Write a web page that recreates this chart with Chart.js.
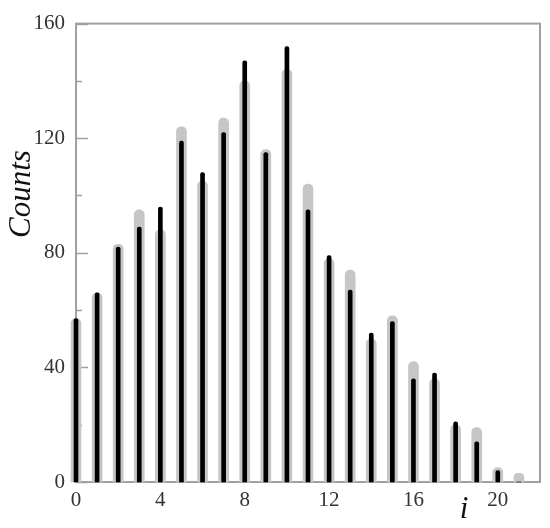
<!DOCTYPE html>
<html><head><meta charset="utf-8">
<script src="https://cdn.jsdelivr.net/npm/chart.js@4"></script>
<style>html,body{margin:0;padding:0;background:#fff}#wrap{width:550px;height:528px}</style>
</head><body><div id="wrap"><canvas id="c" width="550" height="528"></canvas></div>
<script>
const indices = [0,1,2,3,4,5,6,7,8,9,10,11,12,13,14,15,16,17,18,19,20,21];
const blackCounts = [57,66,82,89,96,119,108,122,147,115,152,95,79,67,52,56,36,38,21,14,4,0];
const grayCounts  = [57,66,83,95,88,124,105,127,140,116,144,104,78,74,50,58,42,36,20,19,5,3];
const xTicks = [0,4,8,12,16,20];
const yMajorTicks = [0,40,80,120,160];
const yMinorTicks = [20,60,100,140];
const xTitle = 'i';
const yTitle = 'Counts';

const serif = '"Liberation Serif", "DejaVu Serif", serif';

const framePlugin = {
  id: 'frame',
  beforeDatasetsDraw(chart) {
    const {ctx, chartArea: a, scales: {y}} = chart;
    ctx.save();
    ctx.strokeStyle = '#a0a0a0';
    ctx.lineWidth = 2;
    ctx.strokeRect(a.left, a.top, a.right - a.left, a.bottom - a.top);
    ctx.lineWidth = 1.5;
    const tick = (v, len) => {
      const py = Math.round(y.getPixelForValue(v)) + 0.5;
      ctx.beginPath(); ctx.moveTo(a.left, py); ctx.lineTo(a.left + len, py); ctx.stroke();
    };
    yMajorTicks.forEach(v => tick(v, 12));
    yMinorTicks.forEach(v => tick(v, 6));
    ctx.restore();
  },
  afterDraw(chart) {
    const {ctx, scales: {x, y}} = chart;
    ctx.save();
    ctx.fillStyle = '#111';
    ctx.font = 'italic 31px ' + serif;
    ctx.textAlign = 'center';
    ctx.textBaseline = 'alphabetic';
    ctx.fillText(xTitle, x.getPixelForValue(18.4), 518);
    ctx.translate(30, y.getPixelForValue(100.5));
    ctx.rotate(-Math.PI / 2);
    ctx.fillText(yTitle, 0, 0);
    ctx.restore();
  }
};

new Chart(document.getElementById('c'), {
  type: 'bar',
  data: {
    datasets: [
      {
        label: 'black',
        data: indices.map((i, k) => ({x: i, y: blackCounts[k]})),
        backgroundColor: '#000',
        barThickness: 4,
        borderRadius: {topLeft: 2, topRight: 2},
        borderSkipped: 'start',
        grouped: false,
        order: 0,
        clip: false
      },
      {
        label: 'gray',
        data: indices.map((i, k) => ({x: i, y: grayCounts[k]})),
        backgroundColor: '#c6c6c6',
        barThickness: 10,
        borderRadius: {topLeft: 5, topRight: 5},
        borderSkipped: 'start',
        grouped: false,
        order: 1,
        clip: false
      }
    ]
  },
  options: {
    responsive: false,
    animation: false,
    layout: {padding: {top: 15, right: 10, left: 0, bottom: 0}},
    plugins: {legend: {display: false}, tooltip: {enabled: false}},
    scales: {
      x: {
        type: 'linear',
        min: 0, max: 22,
        offset: false,
        grid: {display: false, drawTicks: false},
        border: {display: false},
        afterBuildTicks(s) { s.ticks = xTicks.map(v => ({value: v})); },
        afterFit(s) { s.height = 46; },
        ticks: {padding: 6, color: '#333', font: {family: serif, size: 21}, maxRotation: 0}
      },
      y: {
        min: 0, max: 160,
        grid: {display: false, drawTicks: false},
        border: {display: false},
        afterBuildTicks(s) { s.ticks = yMajorTicks.map(v => ({value: v})); },
        afterFit(s) { s.width = 76; },
        ticks: {padding: 11, color: '#333', font: {family: serif, size: 21}}
      }
    }
  },
  plugins: [framePlugin]
});
</script>
</body></html>
